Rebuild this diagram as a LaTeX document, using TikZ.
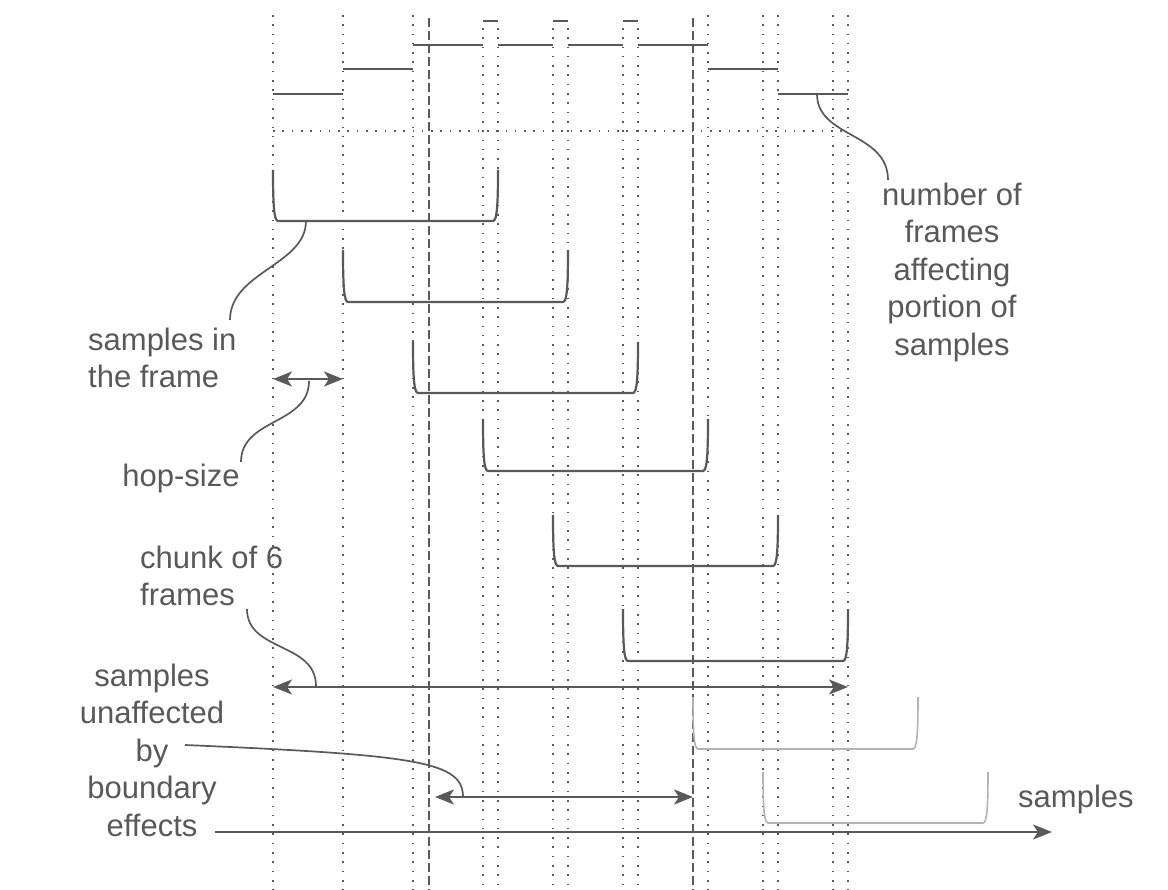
\documentclass[tikz,border=0pt]{standalone}
\usepackage{fontspec}
\setmainfont{Liberation Sans}
\usetikzlibrary{arrows.meta}

\definecolor{ink}{HTML}{595959}
\definecolor{pale}{HTML}{B3B3B3}

\begin{document}
\begin{tikzpicture}[x=1pt, y=-1pt, ink, >={Stealth[length=19pt, width=15pt, inset=5pt]},
  guide/.style = {draw=ink, line width=1.8pt, dash pattern=on 1.6pt off 7.7pt},
  limit/.style = {draw=ink, line width=2pt, dash pattern=on 9pt off 4pt},
  stepline/.style = {draw=ink, line width=2pt},
  fr/.style = {draw=ink, line width=2.2pt},
  later/.style = {draw=pale, line width=1.6pt},
  span/.style = {draw=ink, line width=2.2pt, <->},
  callout/.style = {draw=ink, line width=1.7pt},
  txt/.style = {inner sep=0pt, text=ink, font=\fontsize{31pt}{37.5pt}\selectfont}]
\useasboundingbox (0,0) rectangle (1168,890);

% dotted guides at frame borders
\draw[guide] (273,15) -- (273,890);
\draw[guide] (343,15) -- (343,890);
\draw[guide] (413,15) -- (413,890);
\draw[guide] (483,28) -- (483,890);
\draw[guide] (498,28) -- (498,890);
\draw[guide] (553,28) -- (553,890);
\draw[guide] (568,28) -- (568,890);
\draw[guide] (623,28) -- (623,890);
\draw[guide] (638,28) -- (638,890);
\draw[guide] (708,15) -- (708,890);
\draw[guide] (763,15) -- (763,890);
\draw[guide] (778,15) -- (778,890);
\draw[guide] (833,15) -- (833,890);
\draw[guide] (848,15) -- (848,890);
\draw[guide] (273,131) -- (848,131);

% boundaries of the unaffected part
\draw[limit] (429,18) -- (429,890);
\draw[limit] (693,18) -- (693,890);

% frame count per portion
\draw[stepline] (273,94) -- (343,94);
\draw[stepline] (343,69) -- (413,69);
\draw[stepline] (413,45) -- (483,45);
\draw[stepline] (483,21) -- (498,21);
\draw[stepline] (498,45) -- (553,45);
\draw[stepline] (553,21) -- (568,21);
\draw[stepline] (568,45) -- (623,45);
\draw[stepline] (623,21) -- (638,21);
\draw[stepline] (638,45) -- (708,45);
\draw[stepline] (708,69) -- (778,69);
\draw[stepline] (778,94) -- (848,94);

% frames
\draw[fr] (273,170) .. controls (273,205) and (274,221) .. (278,221) -- (493,221) .. controls (497,221) and (498,205) .. (498,170);
\draw[fr] (343,250) .. controls (343,286) and (344,302) .. (348,302) -- (563,302) .. controls (567,302) and (568,286) .. (568,250);
\draw[fr] (413,342) .. controls (413,377) and (414,393) .. (418,393) -- (633,393) .. controls (637,393) and (638,377) .. (638,342);
\draw[fr] (483,419) .. controls (483,455) and (484,471) .. (488,471) -- (703,471) .. controls (707,471) and (708,455) .. (708,419);
\draw[fr] (553,515) .. controls (553,550) and (554,566) .. (558,566) -- (773,566) .. controls (777,566) and (778,550) .. (778,515);
\draw[fr] (623,609) .. controls (623,645) and (624,661) .. (628,661) -- (843,661) .. controls (847,661) and (848,645) .. (848,609);
\draw[later] (693,697) .. controls (693,733) and (694,749) .. (698,749) -- (913,749) .. controls (917,749) and (918,733) .. (918,697);
\draw[later] (763,772) .. controls (763,807) and (764,823) .. (768,823) -- (983,823) .. controls (987,823) and (988,807) .. (988,772);

% labels
\node[txt, anchor=north west, align=left] (frametxt) at (88,327.8) {samples in\\the frame};
\node[txt, anchor=base] (hoptxt) at (181,486) {hop-size};
\node[txt, anchor=north west, align=left] (chunktxt) at (140,545.8) {chunk of 6\\frames};
\node[txt, anchor=north, align=center] (safetxt) at (152,663.8) {samples\\unaffected\\by\\boundary\\effects};
\node[txt, anchor=north, align=center] (counttxt) at (952,182.8) {number of\\frames\\affecting\\portion of\\samples};
\node[txt, anchor=base west] (axistxt) at (1018,807) {samples};

% arrow ends
\coordinate (hopL) at (273,379);
\coordinate (hopR) at (343,379);
\coordinate (chunkL) at (273,687);
\coordinate (chunkR) at (848,687);
\coordinate (safeL) at (435,797);
\coordinate (safeR) at (693,797);
\coordinate (axisL) at (215,832);
\coordinate (axisR) at (1052,832);

\draw[span] (hopL) -- (hopR);
\draw[span] (chunkL) -- (chunkR);
\draw[span] (safeL) -- (safeR);
\draw[draw=ink, line width=2.2pt, ->] (axisL) -- (axisR);

% callout ends
\coordinate (frameon) at (306,221);
\coordinate (frametip) at (230,320);
\coordinate (hopon) at (309,381);
\coordinate (hoptip) at (241,462);
\coordinate (chunktip) at (247,609);
\coordinate (chunkon) at (316,686);
\coordinate (safetip) at (185,745);
\coordinate (safeon) at (463,797);
\coordinate (counton) at (817,94);
\coordinate (counttip) at (888,180);

\draw[callout] (frameon) .. controls (306,265) and (230,272) .. (frametip);
\draw[callout] (hopon) .. controls (309,425) and (241,418) .. (hoptip);
\draw[callout] (chunktip) .. controls (247,652) and (316,642) .. (chunkon);
\draw[callout] (safetip) .. controls (420,755) and (463,762) .. (safeon);
\draw[callout] (counton) .. controls (817,138) and (888,132) .. (counttip);
\end{tikzpicture}
\end{document}
